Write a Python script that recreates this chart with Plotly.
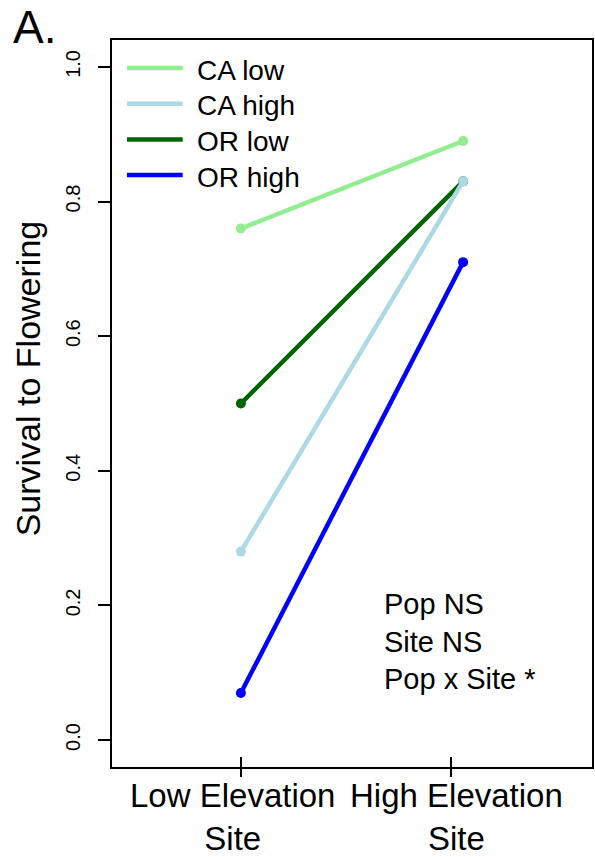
import plotly.graph_objects as go

# survival to flowering by site, for each source population
sites = [1, 2]  # Low Elevation Site, High Elevation Site
site_labels = ["Low Elevation<br>Site", "High Elevation<br>Site"]
series_names = ["CA low", "CA high", "OR low", "OR high"]
ca_low = [0.76, 0.89]
ca_high = [0.28, 0.83]
or_low = [0.50, 0.83]
or_high = [0.07, 0.71]
colors = {"CA low": "lightgreen", "CA high": "lightblue",
          "OR low": "darkgreen", "OR high": "blue"}
values = {"CA low": ca_low, "CA high": ca_high, "OR low": or_low, "OR high": or_high}
draw_order = ["CA low", "OR low", "CA high", "OR high"]
stats_text = ["Pop NS", "Site NS", "Pop x Site *"]

FONT = "Liberation Sans, Arial, sans-serif"
W, H = 595, 857
L, R, T, B = 112, 1, 40, 90
pw, ph = W - L - R, H - T - B


def px(x):
    return (x - L) / pw


def py(y):
    return (H - B - y) / ph


fig = go.Figure()
for name in draw_order:
    fig.add_trace(go.Scatter(
        x=sites, y=values[name], mode="lines+markers", name=name,
        line=dict(color=colors[name], width=4.5),
        marker=dict(color=colors[name], size=10),
        showlegend=False,
    ))

# dummy trace to carry the crossing ticks on a second x axis
fig.add_trace(go.Scatter(x=[None], y=[None], xaxis="x2", showlegend=False))

# legend drawn by hand (R-style long line samples)
for i, name in enumerate(series_names):
    yy = 68 + i * 35.7
    fig.add_shape(type="line", xref="paper", yref="paper",
                  x0=px(127), x1=px(183), y0=py(yy), y1=py(yy),
                  line=dict(color=colors[name], width=4.5))
    fig.add_annotation(text=name, xref="paper", yref="paper", x=px(195), y=py(yy + 2),
                       xanchor="left", yanchor="middle", showarrow=False,
                       font=dict(size=28, color="black", family=FONT))

# x labels (slightly offset from the ticks, as in the original)
for xv, lab in zip([0.96, 1.97], site_labels):
    fig.add_annotation(text=lab, x=xv, xref="x", y=py(775), yref="paper",
                       xanchor="center", yanchor="top", showarrow=False,
                       font=dict(size=33, color="black", family=FONT))

fig.add_annotation(text="<br>".join(stats_text), x=1.636, xref="x", y=0.146, yref="y",
                   xanchor="left", yanchor="middle", align="left", showarrow=False,
                   font=dict(size=29, color="black", family=FONT))

fig.add_annotation(text="Survival to Flowering", xref="paper", yref="paper",
                   x=px(28), y=py(378), textangle=-90, showarrow=False,
                   xanchor="center", yanchor="middle",
                   font=dict(size=34, color="black", family=FONT))

fig.add_annotation(text="A.", xref="paper", yref="paper", x=px(11), y=py(27),
                   xanchor="left", yanchor="middle", showarrow=False,
                   font=dict(size=46, color="black", family=FONT))

fig.update_layout(
    width=W, height=H,
    margin=dict(l=L, r=R, t=T, b=B),
    paper_bgcolor="white", plot_bgcolor="white",
    font=dict(family=FONT, color="black"),
    xaxis=dict(range=[0.42, 2.58], tickvals=[1, 1.946], showticklabels=False,
               ticks="outside", ticklen=8, tickwidth=1.5, tickcolor="black",
               showline=True, mirror=True, linecolor="black", linewidth=1.5,
               showgrid=False, zeroline=False),
    xaxis2=dict(range=[0.42, 2.58], overlaying="x", side="bottom", anchor="y",
                tickvals=[1, 1.946], showticklabels=False,
                ticks="inside", ticklen=10, tickwidth=1.5, tickcolor="black",
                showline=False, showgrid=False, zeroline=False),
    yaxis=dict(range=[-0.04, 1.04], tickvals=[0, 0.2, 0.4, 0.6, 0.8, 1.0],
               ticktext=["0.0", "0.2", "0.4", "0.6", "0.8", "1.0"],
               tickangle=-90, tickfont=dict(size=20, family=FONT, color="black"),
               ticklabelstandoff=10,
               ticks="outside", ticklen=12, tickwidth=1.5, tickcolor="black",
               showline=True, mirror=True, linecolor="black", linewidth=1.5,
               showgrid=False, zeroline=False),
)

fig.write_html("out.html", config={"displayModeBar": False},
               post_script="document.body.style.margin='0px';")
